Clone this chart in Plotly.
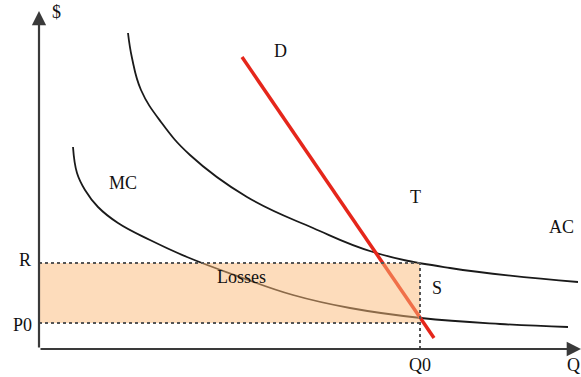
import plotly.graph_objects as go

# Curve values (quantity, cost); origin at the axis corner
mc_q = [34, 38, 46, 59, 79, 111, 148, 201, 254, 311, 382, 461, 529]
mc_cost = [202, 176, 159, 142, 126, 109, 92, 72, 54, 41, 31, 25, 22]

ac_q = [89, 93, 102, 122, 151, 208, 274, 334, 411, 539]
ac_cost = [316, 291, 259, 227, 194, 152, 121, 97, 81, 67]

demand_q = [203, 395]
demand_p = [292, 11]

q0 = 381
r_level = 86
p0_level = 26

# Labels and their positions
labels = ["$", "D", "MC", "T", "AC", "R", "P0", "Losses", "S", "Q0", "Q"]
label_x = [17, 241, 84, 376, 522, -14, -17, 202, 398, 381, 534]
label_y = [337, 298, 166, 152, 122, 89, 24, 72, 61, -16, -16]

axis_color = "#3a3a3a"
dot_color = "#555555"

fig = go.Figure()

# Curva MC
fig.add_trace(go.Scatter(
    x=mc_q, y=mc_cost, mode="lines",
    line=dict(color="#1a1a1a", width=1.8, shape="spline", smoothing=1.2),
    hoverinfo="skip"
))

# Curva AC
fig.add_trace(go.Scatter(
    x=ac_q, y=ac_cost, mode="lines",
    line=dict(color="#1a1a1a", width=1.8, shape="spline", smoothing=1.2),
    hoverinfo="skip"
))

# Demanda
fig.add_trace(go.Scatter(
    x=demand_q, y=demand_p, mode="lines",
    line=dict(color="#e5261b", width=3.5),
    hoverinfo="skip"
))

shapes = [
    # zona de pérdidas (encima de las curvas, semitransparente)
    dict(type="rect", xref="x", yref="y", x0=0, x1=q0, y0=p0_level, y1=r_level,
         fillcolor="rgba(251,186,120,0.5)", line=dict(width=0), layer="above"),
    dict(type="line", xref="x", yref="y", x0=0, x1=q0, y0=r_level, y1=r_level,
         line=dict(color=dot_color, width=2, dash="dot"), layer="above"),
    dict(type="line", xref="x", yref="y", x0=0, x1=q0, y0=p0_level, y1=p0_level,
         line=dict(color=dot_color, width=2, dash="dot"), layer="above"),
    dict(type="line", xref="x", yref="y", x0=q0, x1=q0, y0=0, y1=r_level,
         line=dict(color=dot_color, width=2, dash="dot"), layer="above"),
]

annotations = [
    # ejes con flecha
    dict(x=0, y=338, ax=0, ay=0, xref="x", yref="y", axref="x", ayref="y",
         showarrow=True, arrowhead=2, arrowsize=1.3, arrowwidth=2.2,
         arrowcolor=axis_color, text=""),
    dict(x=542, y=0, ax=0, ay=0, xref="x", yref="y", axref="x", ayref="y",
         showarrow=True, arrowhead=2, arrowsize=1.3, arrowwidth=2.2,
         arrowcolor=axis_color, text=""),
]
for t, lx, ly in zip(labels, label_x, label_y):
    annotations.append(dict(
        x=lx, y=ly, xref="x", yref="y", text=t, showarrow=False,
        font=dict(family="Liberation Serif", size=18, color="#111111"),
        xanchor="center", yanchor="middle"
    ))

fig.update_layout(
    width=581, height=377,
    margin=dict(l=0, r=0, t=0, b=0),
    paper_bgcolor="white", plot_bgcolor="white",
    showlegend=False,
    xaxis=dict(range=[-39, 542], visible=False, fixedrange=True),
    yaxis=dict(range=[-28, 349], visible=False, fixedrange=True),
    shapes=shapes,
    annotations=annotations,
)

# quitar el margen por defecto del body para que la figura llene la ventana
fig.write_html("out.html", config={"displayModeBar": False},
               post_script="document.body.style.margin='0';document.body.style.overflow='hidden';")
